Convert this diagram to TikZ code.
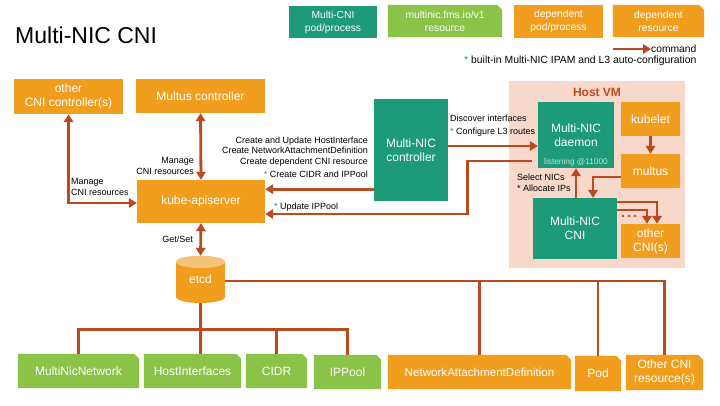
\documentclass[tikz,border=0pt]{standalone}
\usepackage{fontspec}
\setmainfont{Liberation Sans}
\usetikzlibrary{arrows.meta,calc}
\pgfdeclarelayer{bg}
\pgfsetlayers{bg,main}
\definecolor{teal2}{RGB}{29,154,120}
\definecolor{orange2}{RGB}{241,158,30}
\definecolor{lgreen}{RGB}{139,194,72}
\definecolor{rust}{RGB}{186,74,32}
\definecolor{peach}{RGB}{248,216,203}
\definecolor{hostred}{RGB}{190,75,35}
\definecolor{etcdtop}{RGB}{246,196,120}
\definecolor{mint}{RGB}{185,228,210}
\tikzset{
  basebox/.style={rectangle, inner sep=0pt, text=white, align=center, font=\fontsize{12}{14}\selectfont},
  pbox/.style={basebox, fill=teal2},
  dbox/.style={basebox, fill=orange2},
  rbox/.style={basebox},
  arr/.style={draw=rust, line width=2.8pt, -{Triangle[length=8pt,width=9.5pt]}},
  darr/.style={draw=rust, line width=2.8pt, {Triangle[length=8pt,width=9.5pt]}-{Triangle[length=8pt,width=9.5pt]}},
  busline/.style={draw=rust, line width=2.8pt},
  lbl/.style={font=\fontsize{9}{10.5}\selectfont, inner sep=0pt},
}
\newcommand\dogear[2]{%
  \fill[#2] (#1.south west) -- (#1.north west) -- ([xshift=-5pt]#1.north east) -- ([yshift=-5pt]#1.north east) -- (#1.south east) -- cycle;}
\begin{document}
\begin{tikzpicture}[x=1pt,y=-1pt]
\useasboundingbox (0,0) rectangle (720,405);
\begin{pgfonlayer}{bg}
\fill[white] (0,0) rectangle (720,405);
\end{pgfonlayer}

% title
\node[anchor=base west, font=\fontsize{23}{27}\selectfont, inner sep=0pt] (title) at (15,43) {Multi-NIC CNI};

% legend
\node[pbox, minimum width=88pt, minimum height=32pt, font=\fontsize{10.3}{13}\selectfont] (lg1) at (333,22) {Multi-CNI\\pod/process};
\node[rbox, minimum width=114pt, minimum height=32pt, font=\fontsize{10.3}{13}\selectfont] (lg2) at (445,21) {multinic.fms.io/v1\\resource};
\node[dbox, minimum width=89pt, minimum height=33pt, font=\fontsize{10.3}{13}\selectfont] (lg3) at (558.5,21.5) {dependent\\pod/process};
\node[rbox, minimum width=91pt, minimum height=32pt, font=\fontsize{10.3}{13}\selectfont] (lg4) at (658.5,21) {dependent\\resource};
\node[anchor=west, font=\fontsize{10.3}{12}\selectfont, inner sep=0pt] (cmd) at (651,49) {command};
\coordinate (cmdstart) at (613,49);
\draw[arr] (cmdstart) -- (cmd.west);
\node[anchor=west, font=\fontsize{10.4}{12}\selectfont, inner sep=0pt] (note) at (464,61) {\textcolor{teal2}{*} built-in Multi-NIC IPAM and L3 auto-configuration};

% host VM
\node[rectangle, fill=peach, inner sep=0pt, minimum width=176pt, minimum height=187pt] (hostvm) at (597,174.5) {};
\node[font=\bfseries\fontsize{12}{14}\selectfont, text=hostred, inner sep=0pt] (hostlbl) at (597,92) {Host VM};

% main boxes
\node[dbox, minimum width=109pt, minimum height=35pt] (occ) at (68.5,96.5) {other\\CNI controller(s)};
\node[dbox, minimum width=129pt, minimum height=34pt] (mc) at (200.5,96) {Multus controller};
\node[dbox, minimum width=128pt, minimum height=43pt] (kube) at (201,201.5) {kube-apiserver};
\node[pbox, minimum width=74pt, minimum height=102pt] (ctrl) at (411,150) {Multi-NIC\\controller};
\node[pbox, minimum width=76pt, minimum height=66pt] (daemon) at (576,135) {Multi-NIC\\daemon};
\node[font=\fontsize{8.3}{10}\selectfont, text=mint, inner sep=0pt] (listen) at (576,162) {listening @11000};
\node[dbox, minimum width=59pt, minimum height=34pt] (kubelet) at (650.5,119) {kubelet};
\node[dbox, minimum width=59pt, minimum height=34pt] (multus) at (650.5,171) {multus};
\node[pbox, minimum width=84pt, minimum height=61pt] (cni) at (575,228.5) {Multi-NIC\\CNI};
\node[dbox, minimum width=59pt, minimum height=34pt] (ocni) at (650.5,241) {other\\CNI(s)};

% etcd cylinder
\fill[orange2] (176,262) -- (176,297) arc[start angle=180,end angle=360,x radius=24.5pt,y radius=6pt] -- (225,262) arc[start angle=0,end angle=180,x radius=24.5pt,y radius=6pt] -- cycle;
\fill[etcdtop] (200.5,262) ellipse[x radius=24.5pt, y radius=6pt];
\node[basebox, minimum width=49pt, minimum height=47pt] (etcd) at (200.5,279.5) {\raisebox{-3.5pt}{etcd}};

% resources
\node[rbox, minimum width=121pt, minimum height=34pt] (mnn) at (78.5,371) {MultiNicNetwork};
\node[rbox, minimum width=97pt, minimum height=34pt] (hi) at (192.5,371) {HostInterfaces};
\node[rbox, minimum width=61pt, minimum height=34pt] (cidr) at (276.5,371) {CIDR};
\node[rbox, minimum width=67pt, minimum height=34pt] (ipp) at (347.5,372) {IPPool};
\node[rbox, minimum width=183pt, minimum height=34pt, font=\fontsize{11.6}{14}\selectfont] (nad) at (479.5,372) {NetworkAttachmentDefinition};
\node[rbox, minimum width=46pt, minimum height=35pt] (pod) at (598,373.5) {Pod};
\node[rbox, minimum width=77pt, minimum height=35pt] (ocr) at (664.5,372.5) {Other CNI\\resource(s)};

\begin{pgfonlayer}{bg}
\dogear{lg2}{lgreen}
\dogear{lg4}{orange2}
\dogear{mnn}{lgreen}
\dogear{hi}{lgreen}
\dogear{cidr}{lgreen}
\dogear{ipp}{lgreen}
\dogear{nad}{orange2}
\dogear{pod}{orange2}
\dogear{ocr}{orange2}
\end{pgfonlayer}

% connectors
\draw[darr] (occ.south) |- ($(kube.west)+(0,1.5)$);
\draw[darr] (mc.south) -- (kube.north);
\draw[darr] (kube.south) -- (etcd.north);
\coordinate (c1) at ($(ctrl.south west)+(0,-12)$);
\draw[arr] (c1) -- (c1 -| kube.east);
\coordinate (c2) at ($(daemon.west)+(0,11)$);
\draw[arr] (c2 -| ctrl.east) -- (c2);
\coordinate (c3) at ($(daemon.west)+(-6,26)$);
\draw[arr] (c3) -- ++(-64,0) |- ($(kube.east)+(0,12.5)$);
\draw[arr] (kubelet.south) -- (multus.north);
\draw[arr] ($(multus.west)+(0,6)$) -| ($(cni.north)+(18,0)$);
\draw[arr] (daemon.south |- cni.north) -- (daemon.south);
\draw[arr] ($(cni.east)+(0,-26.5)$) -| ($(ocni.north)+(6.5,0)$);
\draw[arr] ($(cni.east)+(0,-18.5)$) -| ($(ocni.north)+(-3.5,0)$);
\foreach \dx in {623,629,635} \fill[rust] (\dx,216) circle[radius=1.3pt];

% etcd buses
\coordinate (busA) at ($(etcd.east)+(0,1.5)$);
\draw[busline] (busA) -| (ocr.north);
\draw[busline] (nad.north) -- (nad.north |- busA);
\draw[busline] (pod.north) -- (pod.north |- busA);
\coordinate (busB) at ($(etcd.south)+(0,26)$);
\draw[busline] (etcd.south) -- (etcd.south |- hi.north);
\draw[busline] (mnn.north) |- (busB -| ipp.north) -- (ipp.north);
\draw[busline] (cidr.north) -- (cidr.north |- busB);

% labels
\node[lbl, anchor=east, align=right, font=\fontsize{9}{11}\selectfont] (lman1) at (194,166) {Manage\\CNI resources};
\node[lbl, anchor=west, align=left, font=\fontsize{9}{11}\selectfont] (lman2) at (71,186.5) {Manage\\CNI resources};
\node[lbl, anchor=east] (lget) at (193,239) {Get/Set};
\node[lbl, anchor=east, align=right] (lcreate) at (368,157) {Create and Update HostInterface\\Create NetworkAttachmentDefinition\\Create dependent CNI resource\\[2.5pt]\textcolor{teal2}{*} Create CIDR and IPPool};
\node[lbl, anchor=west, align=left] (ldisc) at (450,126) {Discover interfaces\\[2.5pt]\textcolor{teal2}{*} Configure L3 routes};
\node[lbl, anchor=west] (lupd) at (274,207) {\textcolor{teal2}{*} Update IPPool};
\node[lbl, anchor=west, align=left, font=\fontsize{9}{11}\selectfont] (lsel) at (517,182.5) {Select NICs\\* Allocate IPs};
\end{tikzpicture}
\end{document}
